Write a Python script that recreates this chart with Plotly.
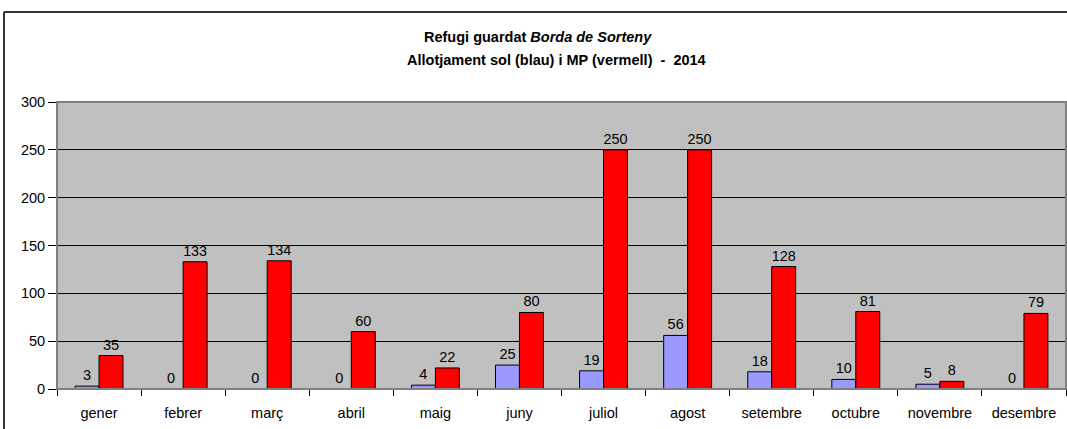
import plotly.graph_objects as go

months = ["gener", "febrer", "març", "abril", "maig", "juny", "juliol",
          "agost", "setembre", "octubre", "novembre", "desembre"]
sol = [3, 0, 0, 0, 4, 25, 19, 56, 18, 10, 5, 0]
mp = [35, 133, 134, 60, 22, 80, 250, 250, 128, 81, 8, 79]
y_ticks = [0, 50, 100, 150, 200, 250, 300]

W, H = 1067, 429
L, R, T, B = 57, 1, 102, 40
pw, ph = W - L - R, H - T - B
FONT = "Liberation Sans, Arial"
FS = 14.5


def px_x(x):
    return (x - L) / pw


def px_y(y):
    return (H - B - y) / ph


fig = go.Figure()
fig.add_trace(go.Bar(x=months, y=sol, name="sol",
                     marker=dict(color="#9999FF", line=dict(color="black", width=1)),
                     text=[str(v) for v in sol], textposition="outside", cliponaxis=False,
                     textfont=dict(family=FONT, size=FS, color="black")))
fig.add_trace(go.Bar(x=months, y=mp, name="MP",
                     marker=dict(color="#FF0000", line=dict(color="black", width=1)),
                     text=[str(v) for v in mp], textposition="outside", cliponaxis=False,
                     textfont=dict(family=FONT, size=FS, color="black")))

fig.update_layout(
    width=W, height=H,
    margin=dict(l=L, r=R, t=T, b=B),
    paper_bgcolor="white", plot_bgcolor="#C0C0C0",
    barmode="group", bargap=0.43, bargroupgap=0,
    showlegend=False,
    font=dict(family=FONT, size=FS, color="black"),
    xaxis=dict(tickson="boundaries", ticks="outside", ticklen=6, tickcolor="black",
               showline=True, linecolor="black", linewidth=1, showgrid=False,
               tickfont=dict(size=FS), ticklabelstandoff=11),
    yaxis=dict(range=[0, 300], tickvals=y_ticks, ticks="outside", ticklen=8, tickcolor="black",
               showline=True, linecolor="black", linewidth=1,
               showgrid=True, gridcolor="black", gridwidth=1, zeroline=False,
               tickfont=dict(size=FS)),
    shapes=[
        dict(type="rect", xref="paper", yref="paper", x0=0, x1=1, y0=0, y1=1,
             line=dict(color="#808080", width=2), fillcolor="rgba(0,0,0,0)", layer="above"),
        dict(type="line", xref="paper", yref="paper", x0=px_x(4), x1=px_x(4), y0=px_y(12), y1=px_y(440),
             line=dict(color="#333333", width=2)),
        dict(type="line", xref="paper", yref="paper", x0=px_x(4), x1=px_x(1080), y0=px_y(12), y1=px_y(12),
             line=dict(color="#333333", width=2)),
    ],
    annotations=[
        dict(xref="paper", yref="paper", x=px_x(538), y=px_y(37), showarrow=False,
             text="<b>Refugi guardat <i>Borda de Sorteny</i></b>",
             font=dict(size=FS), xanchor="center", yanchor="middle"),
        dict(xref="paper", yref="paper", x=px_x(556), y=px_y(60), showarrow=False,
             text="<b>Allotjament sol (blau) i MP (vermell)  -  2014</b>", font=dict(size=FS),
             xanchor="center", yanchor="middle"),
    ],
)

fig.write_html("out.html", config={"displayModeBar": False},
               post_script="document.body.style.margin='0';document.body.style.overflow='hidden';")
